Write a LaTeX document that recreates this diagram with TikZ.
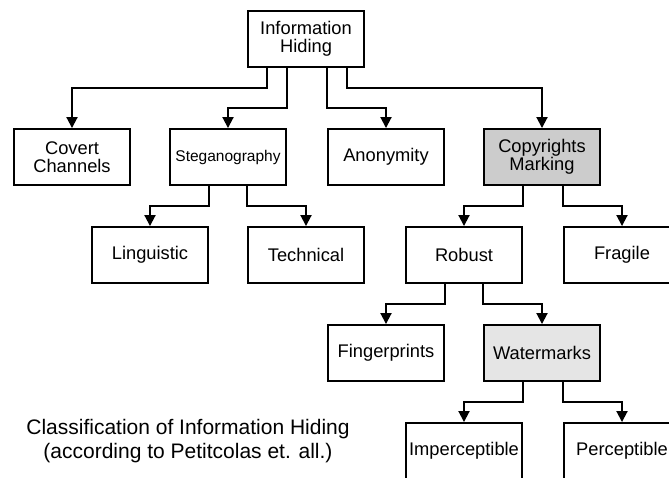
\documentclass[tikz,border=0pt]{standalone}
\usepackage{fontspec}
\setmainfont{Liberation Sans}
\usetikzlibrary{arrows.meta, positioning}

\begin{document}
\begin{tikzpicture}[x=1pt, y=-1pt,
    box/.style={draw, line width=1.9pt, minimum width=116pt, minimum height=56pt,
        inner sep=0pt, align=center, font=\fontsize{18.3}{18.5}\selectfont},
    conn/.style={line width=1.9pt, -{Triangle[length=11pt, width=11pt]}}]
    % Rows (centres of the boxes)
    \def\rowOne{39}
    \def\rowTwo{157}
    \def\rowThree{255}
    \def\rowFour{353}
    \def\rowFive{451}
    % Drop from a box to its horizontal branch
    \def\drop{20}

    \useasboundingbox (0,0) rectangle (669,478);

    % Root
    \node[box] (info) at (306,\rowOne) {Information\\Hiding};

    % First level
    \node[box] (covert) at (72,\rowTwo) {Covert\\Channels};
    \node[box, font=\fontsize{15.5}{18}\selectfont] (stego) at (228,\rowTwo) {Steganography};
    \node[box] (anon) at (386,\rowTwo) {Anonymity};
    \node[box, fill=black!20] (copy) at (542,\rowTwo) {Copyrights\\Marking};

    % Second level
    \node[box] (ling) at (150,\rowThree) {Linguistic};
    \node[box] (tech) at (306,\rowThree) {Technical};
    \node[box] (robust) at (464,\rowThree) {Robust};
    \node[box] (fragile) at (622,\rowThree) {Fragile};

    % Third level
    \node[box] (finger) at (386,\rowFour) {Fingerprints};
    \node[box, fill=black!10] (water) at (542,\rowFour) {Watermarks};

    % Fourth level (cut off by the page)
    \node[box] (imper) at (464,\rowFive) {Imperceptible};
    \node[box] (percep) at (622,\rowFive) {Perceptible};

    % Connectors from the root
    \draw[conn] ([xshift=-39pt]info.south) -- ++(0,\drop) -| (covert.north);
    \draw[conn] ([xshift=-19pt]info.south) -- ++(0,2*\drop) -| (stego.north);
    \draw[conn] ([xshift=21pt]info.south) -- ++(0,2*\drop) -| (anon.north);
    \draw[conn] ([xshift=41pt]info.south) -- ++(0,\drop) -| (copy.north);

    % Connectors below
    \draw[conn] ([xshift=-19pt]stego.south) -- ++(0,\drop) -| (ling.north);
    \draw[conn] ([xshift=19pt]stego.south) -- ++(0,\drop) -| (tech.north);
    \draw[conn] ([xshift=-19pt]copy.south) -- ++(0,\drop) -| (robust.north);
    \draw[conn] ([xshift=21pt]copy.south) -- ++(0,\drop) -| (fragile.north);
    \draw[conn] ([xshift=-19pt]robust.south) -- ++(0,\drop) -| (finger.north);
    \draw[conn] ([xshift=19pt]robust.south) -- ++(0,\drop) -| (water.north);
    \draw[conn] ([xshift=-19pt]water.south) -- ++(0,\drop) -| (imper.north);
    \draw[conn] ([xshift=21pt]water.south) -- ++(0,\drop) -| (percep.north);

    % Caption
    \node[align=center, font=\fontsize{21}{24}\selectfont] (caption) at (188,441.5)
        {Classification of Information Hiding\\(according to Petitcolas et. all.)};
\end{tikzpicture}
\end{document}
